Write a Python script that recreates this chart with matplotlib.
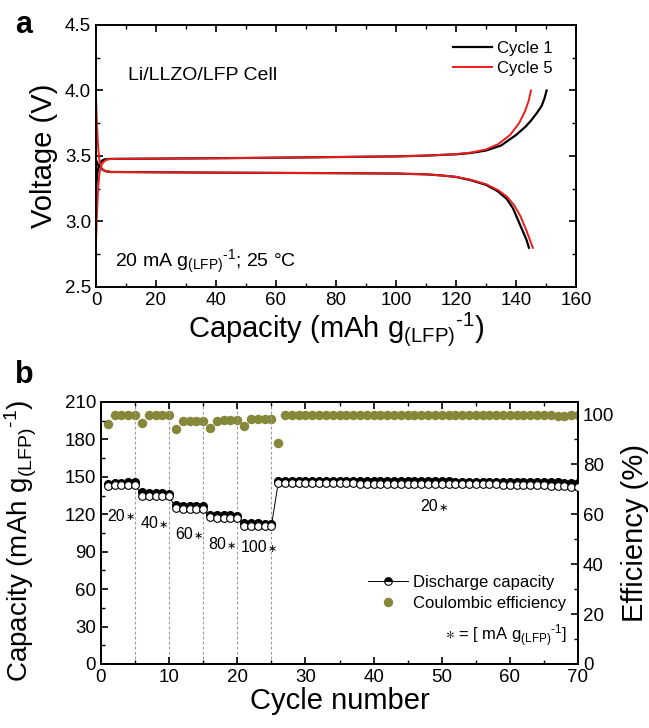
import matplotlib
matplotlib.use("Agg")
import matplotlib.pyplot as plt
from matplotlib.lines import Line2D
from matplotlib.ticker import MultipleLocator, FormatStrFormatter
import numpy as np

plt.rcParams['font.family'] = ['Liberation Sans', 'DejaVu Sans']
plt.rcParams['mathtext.fontset'] = 'custom'
plt.rcParams['mathtext.rm'] = 'Liberation Sans'
plt.rcParams['mathtext.it'] = 'Liberation Sans'
plt.rcParams['mathtext.default'] = 'regular'

# ---------------- Panel a data ----------------
c1_charge_cap = [0, 0.5, 1, 2, 3, 5, 20, 40, 60, 80, 100, 110, 120, 125, 130, 135, 140, 143, 145, 147, 148.5, 149.5, 150.2]
c1_charge_v   = [3.25, 3.38, 3.43, 3.465, 3.475, 3.478, 3.48, 3.483, 3.487, 3.492, 3.497, 3.503, 3.513, 3.523, 3.542, 3.58, 3.66, 3.72, 3.77, 3.83, 3.88, 3.94, 4.0]
c1_dis_cap = [0, 0.5, 1, 2, 3, 5, 20, 40, 60, 80, 100, 110, 115, 120, 125, 130, 134, 137, 139, 140.5, 142, 143.5, 144.3]
c1_dis_v   = [3.47, 3.44, 3.42, 3.40, 3.385, 3.378, 3.376, 3.373, 3.371, 3.369, 3.366, 3.36, 3.352, 3.34, 3.315, 3.28, 3.23, 3.17, 3.10, 3.02, 2.94, 2.86, 2.80]
c5_charge_cap = [0, 0.3, 0.7, 1.2, 2, 3, 4, 6, 20, 40, 60, 80, 100, 110, 120, 125, 130, 134, 138, 141, 143, 144.2, 145]
c5_charge_v   = [2.85, 3.05, 3.25, 3.38, 3.44, 3.465, 3.475, 3.478, 3.48, 3.483, 3.487, 3.492, 3.497, 3.503, 3.514, 3.526, 3.55, 3.59, 3.66, 3.75, 3.84, 3.92, 4.0]
c5_dis_cap = [0, 0.3, 0.7, 1.2, 2, 3, 5, 20, 40, 60, 80, 100, 110, 115, 120, 125, 130, 134, 137, 139.5, 141.5, 143.5, 145.6]
c5_dis_v   = [3.95, 3.75, 3.57, 3.45, 3.40, 3.385, 3.378, 3.376, 3.373, 3.371, 3.369, 3.366, 3.36, 3.352, 3.341, 3.318, 3.285, 3.24, 3.19, 3.12, 3.04, 2.93, 2.80]

# ---------------- Panel b data ----------------
cycles = np.arange(1, 71)
charge_capacity = ([144.5, 145, 145.3, 145.6, 146] +
                   [137.8, 137.2, 137, 136.8, 136.6] +
                   [127.2, 126.8, 126.6, 126.5, 126.4] +
                   [119.6, 119.4, 119.2, 119.1, 119.0] +
                   [113, 112.8, 112.7, 112.6, 112.6] +
                   [146.5, 146.6, 146.7, 146.7, 146.7, 146.7, 146.7, 146.6, 146.6, 146.6,
                    146.6, 146.6, 146.6, 146.5, 146.5, 146.5, 146.5, 146.5, 146.4, 146.4,
                    146.4, 146.4, 146.3, 146.3, 146.3, 146.3, 146.2, 146.2, 146.2, 146.1,
                    146.1, 146.1, 146.0, 146.0, 146.0, 145.9, 145.9, 145.8, 145.8, 145.7,
                    145.6, 145.5, 145.4, 145.3, 145.1])
discharge_capacity = ([143, 143.2, 143.3, 143.4, 143.6] +
                      [135, 134.8, 134.6, 134.5, 134.3] +
                      [124.8, 124.6, 124.5, 124.4, 124.3] +
                      [117.6, 117.4, 117.3, 117.2, 117.1] +
                      [110.9, 110.8, 110.7, 110.6, 110.6] +
                      [144.8, 144.8, 144.8, 144.8, 144.8, 144.8, 144.8, 144.7, 144.7, 144.7,
                       144.7, 144.7, 144.6, 144.6, 144.6, 144.6, 144.5, 144.5, 144.5, 144.4,
                       144.4, 144.4, 144.3, 144.3, 144.3, 144.2, 144.2, 144.1, 144.1, 144.0,
                       144.0, 143.9, 143.9, 143.8, 143.7, 143.6, 143.5, 143.4, 143.3, 143.2,
                       143.0, 142.8, 142.5, 142.2, 141.8])
coulombic_eff = ([96.0, 99.8, 99.8, 99.8, 99.8] +
                 [96.5, 99.8, 99.8, 99.8, 99.8] +
                 [94.0, 97.2, 97.3, 97.3, 97.3] +
                 [94.5, 97.5, 97.6, 97.6, 97.6] +
                 [95.2, 98.0, 98.0, 98.0, 98.0] +
                 [88.5] + [99.8] * 38 + [99.6, 99.6, 99.5, 99.5, 99.6, 99.7])
rate_boundaries = [5, 10, 15, 20, 25]
rate_labels = ["20", "40", "60", "80", "100", "20"]
rate_label_x = [3.5, 8.4, 13.5, 18.4, 24.4, 49.4]
rate_label_y = [118.6, 112.7, 104, 96, 93, 126]

olive = '#87873a'
SUP = r'$^{\text{-}1}$'

fig = plt.figure(figsize=(6.49, 7.28), dpi=100)

# ---------------- Panel a ----------------
ax1 = fig.add_axes([96/649, 1-287/728, (576-96)/649, (287-25)/728])
ax1.plot(c1_charge_cap, c1_charge_v, color='black', lw=1.6, label='Cycle 1')
ax1.plot(c1_dis_cap, c1_dis_v, color='black', lw=1.6)
ax1.plot(c5_charge_cap, c5_charge_v, color='#ee1c1c', lw=1.4, label='Cycle 5')
ax1.plot(c5_dis_cap, c5_dis_v, color='#ee1c1c', lw=1.4)
ax1.set_xlim(0, 160)
ax1.set_ylim(2.5, 4.5)
ax1.xaxis.set_major_locator(MultipleLocator(20))
ax1.xaxis.set_minor_locator(MultipleLocator(10))
ax1.yaxis.set_major_locator(MultipleLocator(0.5))
ax1.yaxis.set_minor_locator(MultipleLocator(0.25))
ax1.yaxis.set_major_formatter(FormatStrFormatter('%.1f'))
ax1.tick_params(which='both', direction='in', top=True, right=True, labelsize=13.5)
ax1.tick_params(which='major', length=5, width=1.2)
ax1.tick_params(which='minor', length=3, width=1.0)
for s in ax1.spines.values():
    s.set_linewidth(1.4)
ax1.set_xlabel(r'Capacity (mAh g$_{(LFP)}$' + SUP + ')', fontsize=21, labelpad=1)
ax1.set_ylabel('Voltage (V)', fontsize=21, labelpad=5)
ax1.legend(loc='upper left', bbox_to_anchor=(0.729, 0.966), borderaxespad=0,
           frameon=False, fontsize=12, handlelength=2.35,
           handletextpad=0.3, labelspacing=0.3)
ax1.text(0.067, 0.809, 'Li/LLZO/LFP Cell', transform=ax1.transAxes, fontsize=14, va='center')
ax1.text(0.04, 0.076, r'20 mA g$_{(LFP)}$' + SUP + '; 25 °C', transform=ax1.transAxes,
         fontsize=14, va='baseline')
fig.text(15/649, 1-33/728, 'a', fontsize=22, fontweight='bold', va='baseline')

# ---------------- Panel b ----------------
ax2 = fig.add_axes([101/649, 1-664/728, (578-101)/649, (664-402)/728])
ax3 = ax2.twinx()
for b in rate_boundaries:
    ax2.axvline(b, color='#999999', lw=0.8, ls=(0, (2.5, 2)), zorder=1)
ax3.plot(cycles, coulombic_eff, 'o', color=olive, ms=5.8, mec=olive, zorder=2)
ax2.plot(cycles, charge_capacity, 'o', color='black', ms=5.5, mec='black', zorder=3)
ax2.plot(cycles, discharge_capacity, '-o', color='black', lw=0.7, ms=5.5,
         mfc='white', mec='black', mew=0.8, zorder=4)
ax2.set_zorder(ax3.get_zorder() + 1)
ax2.patch.set_visible(False)
ax2.set_xlim(0, 70)
ax2.set_ylim(0, 210)
ax3.set_ylim(0, 105)
ax2.xaxis.set_major_locator(MultipleLocator(10))
ax2.xaxis.set_minor_locator(MultipleLocator(5))
ax2.yaxis.set_major_locator(MultipleLocator(30))
ax2.yaxis.set_minor_locator(MultipleLocator(15))
ax3.yaxis.set_major_locator(MultipleLocator(20))
ax3.yaxis.set_minor_locator(MultipleLocator(10))
ax2.tick_params(which='both', direction='in', top=True, labelsize=13.5)
ax3.tick_params(which='both', direction='in', labelsize=13.5)
for a in (ax2, ax3):
    a.tick_params(which='major', length=5, width=1.2)
    a.tick_params(which='minor', length=3, width=1.0)
    for s in a.spines.values():
        s.set_linewidth(1.4)
ax2.set_xlabel('Cycle number', fontsize=21, labelpad=1)
ax2.set_ylabel(r'Capacity (mAh g$_{(LFP)}$' + SUP + ')', fontsize=20, labelpad=3)
ax2.yaxis.set_label_coords(-0.13, 0.47)
ax3.set_ylabel('Efficiency (%)', fontsize=21, labelpad=5)

for lx, ly, lt in zip(rate_label_x, rate_label_y, rate_labels):
    ax2.text(lx, ly, lt, fontsize=11.5, ha='right', va='center', zorder=5)
    ax2.annotate('∗', xy=(lx, ly), xytext=(0.5, -1), textcoords='offset points',
                 fontsize=8, ha='left', va='center', family=['DejaVu Sans'], zorder=5)

handles = [Line2D([0], [0], color='black', lw=0.7, marker='o', ms=5.5, mfc='black',
                  mfcalt='white', fillstyle='top', mec='black', mew=0.8),
           Line2D([0], [0], color=olive, lw=0, marker='o', ms=5.8, mec=olive)]
ax2.legend(handles, ['Discharge capacity', 'Coulombic efficiency'], loc='upper left',
           bbox_to_anchor=(0.545, 0.366), borderaxespad=0, frameon=False, fontsize=12,
           handlelength=2.4, handletextpad=0.3, labelspacing=0.35)
ax2.text(0.977, 0.09, r'$\ast$ = [ mA g$_{(LFP)}$' + SUP + ']', transform=ax2.transAxes,
         fontsize=12, ha='right', va='baseline')
fig.text(15/649, 1-383/728, 'b', fontsize=22, fontweight='bold', va='baseline')

fig.savefig('out.png', dpi=100)
